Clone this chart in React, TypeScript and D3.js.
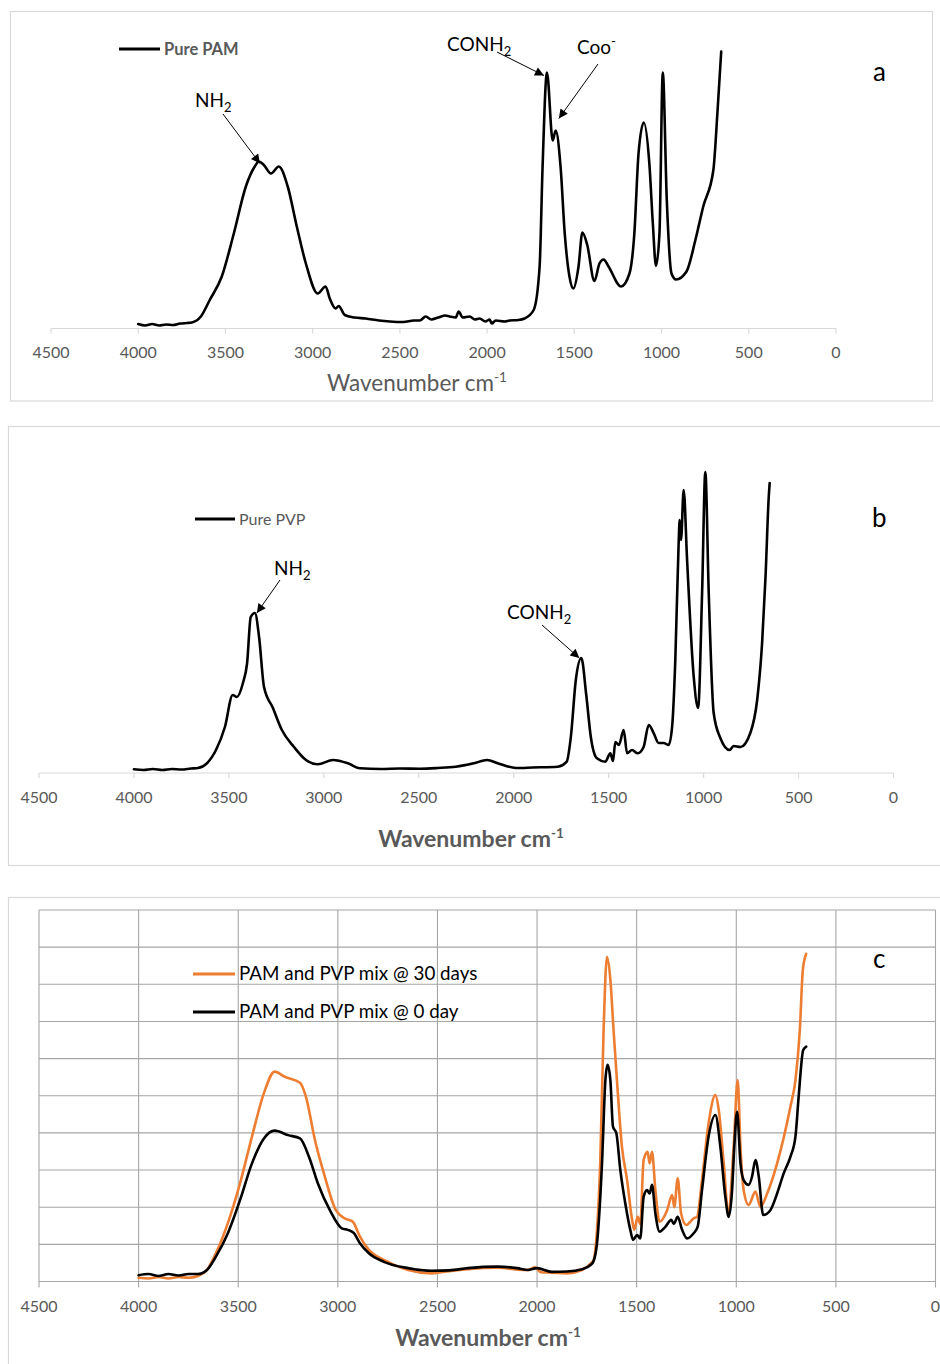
import React from 'react';
import * as d3 from 'd3';

type Pt = [number, number];

// ---------- data ----------
const xTicks = [4500, 4000, 3500, 3000, 2500, 2000, 1500, 1000, 500, 0];
const gridLevels = [0, 1, 2, 3, 4, 5, 6, 7, 8, 9, 10];

// Panel a: Pure PAM (wavenumber cm-1, relative absorbance a.u.)
const pamSpectrum: Pt[] = [
  [4000, 4.5], [3960, 3], [3920, 4.5], [3880, 3], [3840, 4], [3800, 3.5], [3760, 5], [3720, 5.5],
  [3693, 6], [3641, 12], [3590, 28.5], [3521, 52], [3452, 95], [3383, 142], [3332, 162], [3308, 167],
  [3280, 163.5], [3239, 155], [3194, 162], [3143, 142], [3091, 102], [3039, 65], [2971, 35], [2926, 42],
  [2902, 30], [2868, 20], [2851, 22.5], [2816, 13.5], [2760, 11], [2696, 10], [2620, 8], [2558, 7],
  [2480, 6.5], [2420, 8], [2386, 8], [2352, 12], [2320, 9], [2280, 11], [2240, 13], [2215, 12],
  [2180, 11], [2163, 17], [2140, 11], [2100, 12], [2070, 9], [2043, 10], [2010, 7], [1985, 9],
  [1974, 5], [1950, 8], [1900, 7], [1871, 8], [1820, 8.5], [1785, 10], [1733, 18.5], [1699, 62],
  [1682, 162], [1657, 256], [1624, 188], [1607, 198], [1579, 162], [1555, 95], [1528, 52], [1506, 40],
  [1476, 62], [1454, 96], [1426, 83.5], [1385, 47.5], [1356, 65], [1332, 69], [1304, 62], [1232, 42],
  [1184, 55], [1156, 95], [1132, 175], [1102, 206], [1070, 165], [1050, 105], [1032, 62.5], [1012, 95], [993, 256],
  [970, 128.5], [943, 55], [917, 49], [857, 57], [806, 88.5], [761, 122], [703, 158.5], [680, 215], [658, 277],
];

// Panel b: Pure PVP
const pvpSpectrum: Pt[] = [
  [4000, 3.7], [3950, 3], [3900, 4], [3850, 3], [3800, 4], [3750, 3.5], [3700, 4.5], [3663, 5],
  [3616, 9.7], [3568, 23], [3521, 46], [3480, 78], [3458, 76], [3426, 90], [3404, 110], [3385, 156],
  [3363, 160], [3341, 136], [3315, 86], [3268, 65], [3221, 43], [3157, 26], [3094, 13], [3031, 8.7],
  [2952, 13], [2873, 9.7], [2810, 4.7], [2700, 4], [2600, 4.5], [2494, 4.3], [2400, 5], [2305, 6.3],
  [2210, 9.7], [2140, 13], [2084, 9.7], [2040, 7], [1989, 5], [1900, 5.5], [1768, 6.3], [1721, 11.3],
  [1699, 36.3], [1673, 93], [1644, 115], [1618, 78], [1594, 36], [1562, 14.7], [1518, 11.3], [1491, 19.7],
  [1477, 12], [1465, 31], [1446, 28], [1421, 43], [1403, 19.7], [1377, 23], [1347, 19.7], [1316, 26],
  [1289, 48], [1263, 40], [1237, 30], [1210, 30], [1184, 28], [1166, 46], [1149, 113], [1131, 233],
  [1126, 253], [1119, 233], [1105, 283], [1087, 213], [1052, 96], [1029, 65], [1008, 180], [991, 301],
  [973, 180], [947, 60], [912, 35], [863, 23], [842, 27], [806, 26], [754, 40], [718, 73],
  [692, 130], [674, 196], [657, 276], [652, 290],
];

// Panel c: PAM and PVP mix @ 30 days
const mix30Spectrum: Pt[] = [
  [4000, 0.1], [3950, 0.08], [3900, 0.12], [3850, 0.08], [3800, 0.12], [3750, 0.1], [3702, 0.15],
  [3657, 0.31], [3612, 0.76], [3552, 1.57], [3491, 2.64], [3431, 3.9], [3371, 5.07], [3317, 5.65],
  [3266, 5.51], [3190, 5.35], [3160, 4.97], [3115, 3.81], [3070, 2.91], [3010, 1.92], [2965, 1.7],
  [2925, 1.61], [2889, 1.21], [2844, 0.85], [2769, 0.58], [2648, 0.31], [2528, 0.22], [2440, 0.28],
  [2347, 0.33], [2197, 0.37], [2100, 0.32], [2046, 0.31], [2010, 0.38], [1980, 0.25], [1926, 0.24],
  [1850, 0.22], [1775, 0.31], [1730, 0.49], [1716, 0.58], [1699, 1.39], [1683, 3.18], [1666, 6.77],
  [1649, 8.74], [1632, 8.12], [1616, 6.77], [1599, 5.42], [1574, 3.63], [1548, 2.73], [1523, 1.66],
  [1512, 1.39], [1495, 1.74], [1482, 1.55], [1465, 3.27], [1445, 3.49], [1435, 3.18], [1423, 3.49],
  [1406, 2.46], [1385, 1.61], [1347, 1.92], [1322, 2.33], [1311, 2.0], [1294, 2.78], [1277, 1.83],
  [1251, 1.52], [1214, 1.7], [1197, 1.74], [1172, 2.73], [1139, 4.26], [1105, 5.02], [1088, 4.62],
  [1063, 3.18], [1040, 1.85], [1013, 3.63], [993, 5.42], [979, 3.63], [963, 2.46], [938, 2.06],
  [904, 2.42], [879, 2.01], [845, 2.37], [795, 3.18], [728, 4.71], [703, 5.42], [681, 6.77],
  [666, 8.38], [649, 8.82],
];

// Panel c: PAM and PVP mix @ 0 day
const mix0Spectrum: Pt[] = [
  [4000, 0.17], [3950, 0.2], [3900, 0.15], [3850, 0.2], [3800, 0.16], [3750, 0.2], [3702, 0.2],
  [3657, 0.31], [3612, 0.67], [3552, 1.3], [3491, 2.19], [3431, 3.18], [3371, 3.85], [3317, 4.06],
  [3250, 3.94], [3190, 3.85], [3145, 3.36], [3100, 2.64], [3040, 1.92], [2980, 1.43], [2950, 1.39],
  [2919, 1.3], [2889, 1.03], [2844, 0.76], [2769, 0.53], [2648, 0.36], [2528, 0.29], [2440, 0.3],
  [2347, 0.36], [2197, 0.4], [2100, 0.36], [2046, 0.31], [2000, 0.36], [1926, 0.26], [1850, 0.27],
  [1775, 0.33], [1730, 0.45], [1716, 0.55], [1699, 1.03], [1674, 3.18], [1657, 5.42], [1646, 5.83],
  [1632, 5.42], [1619, 4.17], [1602, 3.99], [1582, 3.0], [1557, 2.1], [1532, 1.39], [1518, 1.12],
  [1498, 1.25], [1482, 1.16], [1465, 2.28], [1448, 2.46], [1435, 2.37], [1423, 2.6], [1406, 1.83],
  [1385, 1.34], [1356, 1.47], [1326, 1.66], [1314, 1.55], [1294, 1.74], [1272, 1.39], [1247, 1.16],
  [1214, 1.3], [1194, 1.47], [1172, 2.46], [1139, 3.9], [1105, 4.48], [1080, 3.63], [1055, 2.28],
  [1038, 1.74], [1021, 2.46], [1010, 3.63], [996, 4.57], [979, 3.18], [963, 2.73], [938, 2.6],
  [921, 2.82], [904, 3.27], [887, 2.82], [865, 1.79], [829, 1.92], [795, 2.37], [762, 2.91],
  [728, 3.36], [703, 3.9], [687, 4.97], [664, 6.23], [649, 6.32],
];

const seriesNames = ['Pure PAM', 'Pure PVP', 'PAM and PVP mix @ 30 days', 'PAM and PVP mix @ 0 day'];
const panelLetters = ['a', 'b', 'c'];

// ---------- styles ----------
const FONT = 'Lato, "Open Sans", "DejaVu Sans", sans-serif';
const GRAY = '#595959';
const ORANGE = '#ED7D31';
const BORDER = '#d9d9d9';
const GRID = '#a6a6a6';

function Spectrum({ data, x, y, color, width = 2.6 }: any) {
  const line = d3
    .line<Pt>()
    .x((d) => x(d[0]))
    .y((d) => y(d[1]))
    .curve(d3.curveMonotoneX);
  return (
    <path
      d={line(data) || ''}
      fill="none"
      stroke={color}
      strokeWidth={width}
      strokeLinejoin="round"
      strokeLinecap="round"
    />
  );
}

function XAxis({ x, axisY, labelY, stroke, tickLen }: any) {
  return (
    <g>
      <line x1={x(4500)} x2={x(0)} y1={axisY} y2={axisY} stroke={stroke} strokeWidth={1.2} />
      {xTicks.map((t) => (
        <g key={t}>
          <line x1={x(t)} x2={x(t)} y1={axisY} y2={axisY + tickLen} stroke={stroke} strokeWidth={1.2} />
          <text
            x={x(t)}
            y={labelY}
            textAnchor="middle"
            fontFamily={FONT}
            fontSize={16}
            fill={GRAY}
          >
            {t}
          </text>
        </g>
      ))}
    </g>
  );
}

function AxisTitle({ cx, y, bold }: any) {
  return (
    <text
      x={cx}
      y={y}
      textAnchor="middle"
      fontFamily={FONT}
      fontSize={bold ? 23 : 22.5}
      fontWeight={bold ? 700 : 400}
      fill={GRAY}
    >
      Wavenumber cm
      <tspan dy={-9} fontSize={13.5}>
        -1
      </tspan>
    </text>
  );
}

function Chem({ x, y, main, sub, sup }: any) {
  return (
    <text x={x} y={y} fontFamily={FONT} fontSize={19} fill="#000">
      {main}
      {sub && (
        <tspan dy={5} fontSize={13}>
          {sub}
        </tspan>
      )}
      {sup && (
        <tspan dy={-8} fontSize={13}>
          {sup}
        </tspan>
      )}
    </text>
  );
}

function Arrow({ x1, y1, x2, y2 }: any) {
  return <line x1={x1} y1={y1} x2={x2} y2={y2} stroke="#000" strokeWidth={1} markerEnd="url(#arrowHead)" />;
}

export default function App() {
  // Panel a
  const xa = d3.scaleLinear().domain([4500, 0]).range([51, 836]);
  const ya = d3.scaleLinear().domain([0, 300]).range([328.5, 28.5]);
  // Panel b
  const xb = d3.scaleLinear().domain([4500, 0]).range([39, 893.5]);
  const yb = d3.scaleLinear().domain([0, 300]).range([773, 473]);
  // Panel c
  const xc = d3.scaleLinear().domain([4500, 0]).range([39, 935.5]);
  const yc = d3.scaleLinear().domain([0, 10]).range([1281.5, 910]);

  return (
    <svg
      width={940}
      height={1364}
      style={{ position: 'absolute', left: 0, top: 0, background: '#fff' }}
    >
      <defs>
        <marker
          id="arrowHead"
          viewBox="0 0 10 10"
          refX={10}
          refY={5}
          markerWidth={12}
          markerHeight={9}
          markerUnits="userSpaceOnUse"
          orient="auto"
        >
          <path d="M0,0 L10,5 L0,10 z" fill="#000" />
        </marker>
      </defs>
      <rect x={0} y={0} width={940} height={1364} fill="#fff" />

      {/* ---------- Panel a ---------- */}
      <rect x={10.5} y={11.5} width={922} height={389.5} fill="none" stroke={BORDER} strokeWidth={1.2} />
      <XAxis x={xa} axisY={328.5} labelY={358} stroke={BORDER} tickLen={5} />
      <AxisTitle cx={417} y={391} bold={false} />
      <Spectrum data={pamSpectrum} x={xa} y={ya} color="#000" />
      <line x1={119} x2={160} y1={49} y2={49} stroke="#000" strokeWidth={2.8} />
      <text x={164} y={55} fontFamily={FONT} fontSize={16.5} fontWeight={700} fill={GRAY}>
        {seriesNames[0]}
      </text>
      <Chem x={195} y={107} main="NH" sub="2" />
      <Arrow x1={223} y1={114} x2={xa(3308) + 1} y2={ya(167) + 2} />
      <Chem x={447} y={51} main="CONH" sub="2" />
      <Arrow x1={497} y1={52} x2={xa(1657) - 3} y2={ya(256) + 3} />
      <Chem x={577} y={54} main="Coo" sup="-" />
      <Arrow x1={598} y1={64} x2={xa(1600) + 2} y2={ya(198) - 12} />
      <text x={873} y={81} fontFamily={FONT} fontSize={26} fill="#000">
        {panelLetters[0]}
      </text>

      {/* ---------- Panel b ---------- */}
      <rect x={8.5} y={426.5} width={940} height={439} fill="none" stroke={BORDER} strokeWidth={1.2} />
      <XAxis x={xb} axisY={773} labelY={803} stroke={BORDER} tickLen={5} />
      <AxisTitle cx={471} y={847} bold={true} />
      <Spectrum data={pvpSpectrum} x={xb} y={yb} color="#000" />
      <line x1={195} x2={235} y1={519} y2={519} stroke="#000" strokeWidth={2.8} />
      <text x={239} y={525} fontFamily={FONT} fontSize={16} fill={GRAY}>
        {seriesNames[1]}
      </text>
      <Chem x={274} y={575} main="NH" sub="2" />
      <Arrow x1={280} y1={580} x2={xb(3363) + 2} y2={yb(160)} />
      <Chem x={507} y={619} main="CONH" sub="2" />
      <Arrow x1={542} y1={625} x2={xb(1644) - 2} y2={yb(115)} />
      <text x={872} y={527} fontFamily={FONT} fontSize={26} fill="#000">
        {panelLetters[1]}
      </text>

      {/* ---------- Panel c ---------- */}
      <rect x={8.5} y={897.5} width={940} height={480} fill="none" stroke={BORDER} strokeWidth={1.2} />
      {gridLevels.map((g) => (
        <line key={'h' + g} x1={xc(4500)} x2={xc(0)} y1={yc(g)} y2={yc(g)} stroke={GRID} strokeWidth={1.1} />
      ))}
      {xTicks.map((t) => (
        <line key={'v' + t} x1={xc(t)} x2={xc(t)} y1={yc(10)} y2={yc(0) + 6} stroke={GRID} strokeWidth={1.1} />
      ))}
      {xTicks.map((t) => (
        <text key={'l' + t} x={xc(t)} y={1312} textAnchor="middle" fontFamily={FONT} fontSize={16} fill={GRAY}>
          {t}
        </text>
      ))}
      <AxisTitle cx={488} y={1346} bold={true} />
      <Spectrum data={mix30Spectrum} x={xc} y={yc} color={ORANGE} />
      <Spectrum data={mix0Spectrum} x={xc} y={yc} color="#000" />
      <line x1={193} x2={235} y1={974} y2={974} stroke={ORANGE} strokeWidth={2.8} />
      <text x={239} y={980} fontFamily={FONT} fontSize={18.8} fill="#000">
        {seriesNames[2]}
      </text>
      <line x1={193} x2={235} y1={1012} y2={1012} stroke="#000" strokeWidth={2.8} />
      <text x={239} y={1018} fontFamily={FONT} fontSize={18.8} fill="#000">
        {seriesNames[3]}
      </text>
      <text x={873} y={968} fontFamily={FONT} fontSize={26} fill="#000">
        {panelLetters[2]}
      </text>
    </svg>
  );
}
